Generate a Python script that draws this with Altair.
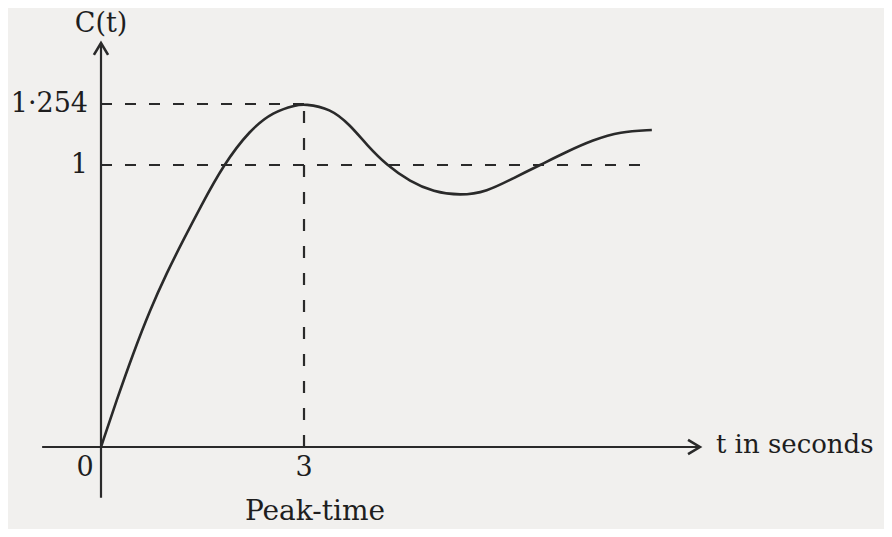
import altair as alt
import pandas as pd

# ---- data ----
curve_t = [0, 0.232, 0.477, 0.724, 0.971, 1.216, 1.463, 1.807, 2.20, 2.546, 2.89, 3.0,
           3.39, 3.68, 3.93, 4.22, 4.57, 4.91, 5.31, 5.70, 6.09, 6.49, 6.88, 7.27,
           7.67, 8.14]
curve_c = [0, 0.167, 0.333, 0.486, 0.617, 0.734, 0.848, 1.0, 1.146, 1.222, 1.250, 1.254,
           1.236, 1.167, 1.083, 1.0, 0.941, 0.905, 0.891, 0.905, 0.953, 1.0, 1.055, 1.104,
           1.139, 1.146]

peak_time = 3
peak_value = 1.254
final_value = 1
curve_end = 8.11

# axis extents (data units)
x_axis_from, x_axis_to = -0.87, 8.85
y_axis_from, y_axis_to = -0.18, 1.508

# ---- styles ----
INK = "#2a2a2a"
FONT = "DejaVu Serif"

W, H = 876, 521
x_dom = [-1.3743, 11.5709]
y_dom = [-0.2908, 0, 1, 1.254, 1.6537]
y_rng = [521, 439, 157, 96, 0]

xs = alt.Scale(domain=x_dom, nice=False, zero=False)
ys = alt.Scale(domain=y_dom, range=y_rng, nice=False, zero=False)

X = lambda f: alt.X(f, type="quantitative", scale=xs, axis=None)
Y = lambda f: alt.Y(f, type="quantitative", scale=ys, axis=None)

curve_df = pd.DataFrame({"t": curve_t, "c": curve_c})

axes_df = pd.DataFrame({
    "x": [x_axis_from, 0], "x2": [x_axis_to, 0],
    "y": [0, y_axis_from], "y2": [0, y_axis_to],
})

hdash_df = pd.DataFrame({
    "x": [0, 0], "x2": [peak_time, curve_end],
    "y": [peak_value, final_value], "y2": [peak_value, final_value],
})
vdash_df = pd.DataFrame({"x": [peak_time], "x2": [peak_time], "y": [0], "y2": [peak_value]})

axes = alt.Chart(axes_df).mark_rule(color=INK, strokeWidth=2.2).encode(
    x=X("x"), x2="x2", y=Y("y"), y2="y2")

hdash = alt.Chart(hdash_df).mark_rule(color=INK, strokeWidth=2.2, strokeDash=[11, 13]).encode(
    x=X("x"), x2="x2", y=Y("y"), y2="y2")
vdash = alt.Chart(vdash_df).mark_rule(color=INK, strokeWidth=2.2, strokeDash=[12, 15]).encode(
    x=X("x"), x2="x2", y=Y("y"), y2="y2")

curve = alt.Chart(curve_df).mark_line(color=INK, strokeWidth=2.6, interpolate="basis").encode(
    x=X("t"), y=Y("c"))

arrow_r = alt.Chart(pd.DataFrame({"x": [x_axis_to], "y": [0]})).mark_point(
    shape="M-1,-0.6L0,0L-1,0.6", size=560, filled=False, stroke=INK, strokeWidth=2.6, opacity=1
).encode(x=X("x"), y=Y("y"))
arrow_u = alt.Chart(pd.DataFrame({"x": [0], "y": [y_axis_to]})).mark_point(
    shape="M-0.6,1L0,0L0.6,1", size=560, filled=False, stroke=INK, strokeWidth=2.6, opacity=1
).encode(x=X("x"), y=Y("y"))


def label(df, **kw):
    base = dict(font=FONT, fontSize=27, color="#1e1e1e", baseline="middle")
    base.update(kw)
    return alt.Chart(pd.DataFrame(df)).mark_text(**base).encode(x=X("x"), y=Y("y"), text="s:N")


y_ticks = label({"x": [0, 0], "y": [peak_value, final_value], "s": ["1·254", "1"]},
                align="right", dx=-13)
x_tick0 = label({"x": [0], "y": [0], "s": ["0"]}, align="center", dx=-16, dy=21)
x_tick3 = label({"x": [peak_time], "y": [0], "s": ["3"]}, align="center", dy=21)
ylab = label({"x": [0], "y": [y_axis_to], "s": ["C(t)"]}, align="center", dy=-19)
xlab = label({"x": [x_axis_to], "y": [0], "s": ["t in seconds"]}, align="left", dx=16, dy=-2,
             fontSize=26)
peak_lab = label({"x": [peak_time], "y": [0], "s": ["Peak-time"]}, align="center",
                 dx=11, dy=65, fontSize=28)

chart = alt.layer(
    hdash, vdash, axes, curve, arrow_r, arrow_u, y_ticks, x_tick0, x_tick3, ylab, xlab, peak_lab
).properties(
    width=W, height=H, autosize=alt.AutoSizeParams(type="none"), padding=0,
    background="#f1f0ee"
).configure_view(stroke=None)

chart.save("out.html", embed_options={"renderer": "svg", "actions": False})
